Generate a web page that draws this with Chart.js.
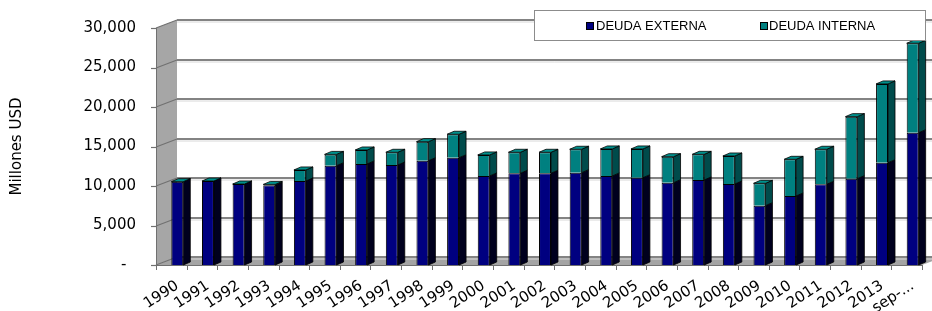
<!DOCTYPE html>
<html>
<head>
<meta charset="utf-8">
<script src="https://cdn.jsdelivr.net/npm/chart.js@4/dist/chart.umd.min.js"></script>
<style>
html,body{margin:0;padding:0;background:#ffffff;}
#wrap{width:932px;height:311px;position:relative;overflow:hidden;}
</style>
</head>
<body>
<div id="wrap"><canvas id="c" width="932" height="311"></canvas></div>
<script>
// ---- data ----
const categories = ['1990','1991','1992','1993','1994','1995','1996','1997','1998','1999','2000','2001','2002','2003','2004','2005','2006','2007','2008','2009','2010','2011','2012','2013','sep-...'];
const deudaExterna = [10550,10630,10250,10090,10630,12570,12790,12660,13200,13580,11270,11610,11610,11690,11270,11050,10420,10760,10250,7510,8740,10220,10930,12950,16750];
const deudaInterna = [0,0,0,110,1400,1430,1770,1610,2410,2970,2660,2660,2660,2960,3420,3640,3290,3250,3550,2830,4640,4430,7850,9970,11320];
const seriesNames = ['DEUDA EXTERNA','DEUDA INTERNA'];
const yTickValues = [0,5000,10000,15000,20000,25000,30000];
const yTickLabels = ['-  ','5,000','10,000','15,000','20,000','25,000','30,000'];
const axisTitle = 'Millones USD';

// ---- styling ----
const FRONT = ['#000080','#008080'];
const SIDE = ['#00001e','#004b4b'];
const TOPC = '#00908c';
const DX = 7, DY = -3;             // bar depth
const WALL_DX = 21, WALL_DY = -8;  // wall depth
const FRONT_SHIFT = -6;            // front axis relative to bar plane

const threeD = {
  id: 'threeD',
  beforeDatasetsDraw(chart) {
    const {ctx, chartArea: a, scales: {y}} = chart;
    const n = categories.length;
    const w = a.right - a.left;
    const fl = a.left + FRONT_SHIFT, fr = fl + w;
    const y0 = y.getPixelForValue(0), yT = y.getPixelForValue(30000);
    ctx.save();
    // floor
    ctx.fillStyle = '#a4a4a4';
    ctx.beginPath();
    ctx.moveTo(fl, y0); ctx.lineTo(fr, y0);
    ctx.lineTo(fr + WALL_DX, y0 + WALL_DY); ctx.lineTo(fl + WALL_DX, y0 + WALL_DY);
    ctx.closePath(); ctx.fill();
    // left wall
    ctx.fillStyle = '#a6a6a6';
    ctx.beginPath();
    ctx.moveTo(fl, yT); ctx.lineTo(fl + WALL_DX, yT + WALL_DY);
    ctx.lineTo(fl + WALL_DX, y0 + WALL_DY); ctx.lineTo(fl, y0);
    ctx.closePath(); ctx.fill();
    // grid lines on back wall + slants on side wall + tick marks
    for (const v of yTickValues) {
      const py = Math.round(y.getPixelForValue(v));
      ctx.strokeStyle = '#d8d8d8'; ctx.lineWidth = 1;
      ctx.beginPath(); ctx.moveTo(fl + WALL_DX, py + WALL_DY + 2); ctx.lineTo(chart.width, py + WALL_DY + 2); ctx.stroke();
      ctx.strokeStyle = '#838383'; ctx.lineWidth = 2;
      ctx.beginPath(); ctx.moveTo(fl + WALL_DX, py + WALL_DY); ctx.lineTo(chart.width, py + WALL_DY); ctx.stroke();
      ctx.strokeStyle = '#707070'; ctx.lineWidth = 1.2;
      ctx.beginPath(); ctx.moveTo(fl, py); ctx.lineTo(fl + WALL_DX, py + WALL_DY); ctx.stroke();
      ctx.beginPath(); ctx.moveTo(fl - 5, py + 0.5); ctx.lineTo(fl, py + 0.5); ctx.stroke();
    }
    // front left edge
    ctx.strokeStyle = '#707070'; ctx.lineWidth = 1;
    ctx.beginPath(); ctx.moveTo(fl + 0.5, yT); ctx.lineTo(fl + 0.5, y0); ctx.stroke();
    // front x axis and ticks
    ctx.beginPath(); ctx.moveTo(fl, Math.round(y0) + 0.5); ctx.lineTo(fr, Math.round(y0) + 0.5); ctx.stroke();
    for (let i = 0; i <= n; i++) {
      const px = Math.round(fl + i * w / n) + 0.5;
      ctx.beginPath(); ctx.moveTo(px, y0); ctx.lineTo(px, y0 + 5); ctx.stroke();
    }
    ctx.restore();
  },
  afterDatasetsDraw(chart) {
    const {ctx} = chart;
    const metas = [chart.getDatasetMeta(0), chart.getDatasetMeta(1)];
    ctx.save();
    ctx.lineWidth = 0.8;
    ctx.strokeStyle = '#000';
    for (let i = 0; i < categories.length; i++) {
      metas.forEach((m, k) => {
        const el = m.data[i];
        const p = el.getProps(['x','y','base','width'], true);
        const xr = p.x + p.width / 2;
        const top = Math.min(p.y, p.base), bot = Math.max(p.y, p.base);
        ctx.fillStyle = SIDE[k];
        ctx.beginPath();
        ctx.moveTo(xr, top); ctx.lineTo(xr + DX, top + DY);
        ctx.lineTo(xr + DX, bot + DY); ctx.lineTo(xr, bot);
        ctx.closePath(); ctx.fill(); ctx.stroke();
      });
      const el = metas[1].data[i];
      const p = el.getProps(['x','y','base','width'], true);
      const xl = p.x - p.width / 2, xr = p.x + p.width / 2;
      const top = Math.min(p.y, p.base);
      ctx.fillStyle = TOPC;
      ctx.beginPath();
      ctx.moveTo(xl, top); ctx.lineTo(xr, top);
      ctx.lineTo(xr + DX, top + DY); ctx.lineTo(xl + DX, top + DY);
      ctx.closePath(); ctx.fill(); ctx.stroke();
    }
    ctx.restore();
  },
  afterDraw(chart) {
    const {ctx} = chart;
    ctx.save();
    // legend box
    ctx.fillStyle = '#fff';
    ctx.fillRect(534, 10, 391, 30);
    ctx.strokeStyle = '#8c8c8c'; ctx.lineWidth = 1;
    ctx.strokeRect(534.5, 10.5, 391, 30);
    const items = [{x: 586, tx: 596}, {x: 760, tx: 769}];
    ctx.font = '13px "Liberation Sans", Arial, sans-serif';
    ctx.textBaseline = 'alphabetic';
    ctx.textAlign = 'left';
    items.forEach((it, k) => {
      ctx.fillStyle = FRONT[k];
      ctx.fillRect(it.x, 22, 8, 8);
      ctx.strokeStyle = '#000';
      ctx.strokeRect(it.x + 0.5, 22.5, 7, 7);
      ctx.fillStyle = '#000';
      ctx.fillText(chart.data.datasets[k].label, it.tx, 30);
    });
    ctx.restore();
  }
};

new Chart(document.getElementById('c'), {
  type: 'bar',
  data: {
    labels: categories,
    datasets: [
      {label: seriesNames[0], data: deudaExterna, backgroundColor: FRONT[0], borderColor: '#000', borderWidth: 1, barPercentage: 0.39, categoryPercentage: 1},
      {label: seriesNames[1], data: deudaInterna, backgroundColor: FRONT[1], borderColor: '#000', borderWidth: 1, barPercentage: 0.39, categoryPercentage: 1}
    ]
  },
  options: {
    responsive: false,
    animation: false,
    devicePixelRatio: 1,
    layout: {padding: {top: 28, right: 4, bottom: 0, left: 0}},
    plugins: {legend: {display: false}, tooltip: {enabled: false}},
    scales: {
      x: {
        stacked: true,
        grid: {display: false, drawTicks: false},
        border: {display: false},
        ticks: {color: '#000', font: {family: 'DejaVu Sans', size: 15}, maxRotation: 33, minRotation: 33, autoSkip: false, padding: 12},
        afterFit(s) { s.height = 46; s.paddingLeft = 0; s.paddingRight = 0; }
      },
      y: {
        stacked: true,
        min: 0, max: 30000,
        grid: {display: false, drawTicks: false},
        border: {display: false},
        ticks: {
          stepSize: 5000, padding: 26, color: '#000',
          font: {family: 'DejaVu Sans', size: 15},
          callback: (v) => { const i = yTickValues.indexOf(v); return i >= 0 ? yTickLabels[i] : ''; }
        },
        title: {display: true, text: axisTitle, color: '#000', font: {family: 'DejaVu Sans', size: 15}, padding: {top: 8, bottom: 0}},
        afterFit(s) { s.width = 162; s.paddingTop = 0; s.paddingBottom = 0; }
      }
    }
  },
  plugins: [threeD]
});
</script>
</body>
</html>
